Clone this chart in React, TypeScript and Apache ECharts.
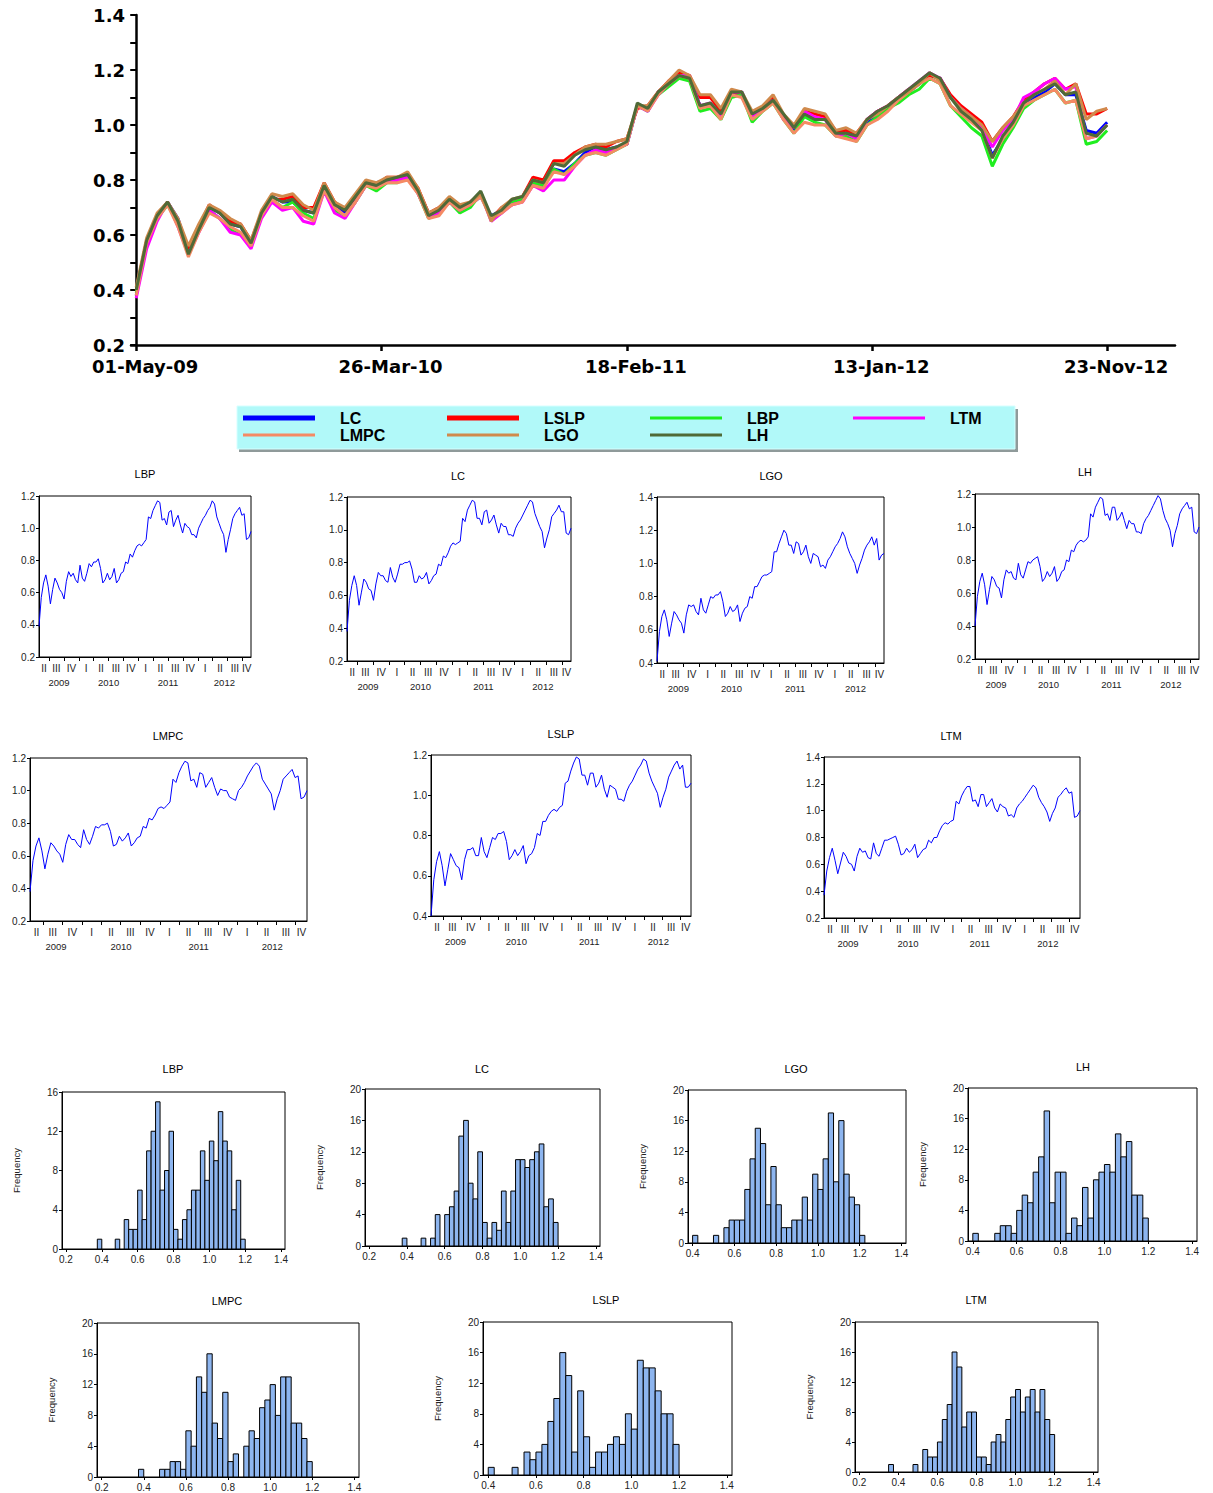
import React, { useEffect, useRef } from 'react';
import * as echarts from 'echarts';

// ---------------- data ----------------
const SERIES_NAMES = ['LC', 'LSLP', 'LBP', 'LTM', 'LMPC', 'LGO', 'LH'];
const SERIES_COLORS = ['#0000ff', '#ff0000', '#1fee1f', '#ff00ff', '#f58a64', '#d08a4c', '#4f6a37'];
const LEGEND_ICON_H = [5, 5, 3, 3, 3, 3, 3];

// biweekly observations, 01-May-09 .. 23-Nov-12
const LC_VALUES = [
  0.38, 0.57, 0.66, 0.72, 0.66, 0.54, 0.62, 0.70, 0.68, 0.64,
  0.63, 0.57, 0.67, 0.74, 0.72, 0.72, 0.69, 0.68, 0.77, 0.71,
  0.68, 0.73, 0.79, 0.79, 0.80, 0.80, 0.81, 0.76, 0.68, 0.68,
  0.72, 0.70, 0.71, 0.74, 0.67, 0.69, 0.72, 0.73, 0.79, 0.78,
  0.84, 0.83, 0.86, 0.90, 0.92, 0.91, 0.92, 0.93, 1.07, 1.05,
  1.12, 1.15, 1.18, 1.17, 1.07, 1.07, 1.03, 1.11, 1.12, 1.04,
  1.06, 1.09, 1.03, 0.98, 1.04, 1.02, 1.02, 0.97, 0.97, 0.96,
  1.01, 1.04, 1.06, 1.09, 1.12, 1.15, 1.18, 1.17, 1.10, 1.06,
  1.02, 0.99, 0.89, 0.95, 1.00, 1.08, 1.10, 1.12, 1.15, 1.11,
  1.11, 0.98, 0.97, 1.01,
];
const LSLP_VALUES = [
  0.40, 0.58, 0.67, 0.72, 0.65, 0.55, 0.63, 0.71, 0.68, 0.65,
  0.64, 0.58, 0.68, 0.73, 0.73, 0.74, 0.70, 0.70, 0.79, 0.72,
  0.69, 0.74, 0.79, 0.78, 0.81, 0.81, 0.82, 0.77, 0.68, 0.70,
  0.73, 0.70, 0.72, 0.75, 0.66, 0.70, 0.71, 0.74, 0.81, 0.80,
  0.87, 0.87, 0.90, 0.92, 0.93, 0.92, 0.94, 0.95, 1.06, 1.07,
  1.12, 1.16, 1.19, 1.18, 1.10, 1.10, 1.05, 1.11, 1.11, 1.04,
  1.06, 1.10, 1.03, 0.99, 1.05, 1.04, 1.03, 0.98, 0.98, 0.97,
  1.02, 1.05, 1.07, 1.10, 1.13, 1.15, 1.18, 1.17, 1.11, 1.07,
  1.04, 1.01, 0.94, 0.99, 1.03, 1.09, 1.12, 1.15, 1.17, 1.13,
  1.15, 1.04, 1.04, 1.06,
];
const LBP_VALUES = [
  0.39, 0.57, 0.66, 0.71, 0.64, 0.53, 0.62, 0.69, 0.66, 0.62,
  0.60, 0.56, 0.67, 0.73, 0.70, 0.72, 0.68, 0.66, 0.77, 0.69,
  0.67, 0.72, 0.78, 0.76, 0.79, 0.79, 0.81, 0.75, 0.66, 0.68,
  0.72, 0.68, 0.70, 0.75, 0.66, 0.68, 0.72, 0.73, 0.79, 0.78,
  0.84, 0.82, 0.86, 0.89, 0.90, 0.89, 0.91, 0.93, 1.07, 1.06,
  1.11, 1.14, 1.17, 1.16, 1.05, 1.06, 1.02, 1.10, 1.11, 1.01,
  1.05, 1.08, 1.02, 0.97, 1.03, 1.01, 1.00, 0.96, 0.96, 0.94,
  1.00, 1.03, 1.06, 1.08, 1.11, 1.13, 1.17, 1.15, 1.07, 1.03,
  0.99, 0.96, 0.85, 0.93, 0.99, 1.06, 1.09, 1.11, 1.13, 1.08,
  1.09, 0.93, 0.94, 0.98,
];
const LTM_VALUES = [
  0.37, 0.55, 0.65, 0.72, 0.63, 0.53, 0.61, 0.69, 0.66, 0.61,
  0.60, 0.55, 0.66, 0.72, 0.69, 0.70, 0.65, 0.64, 0.76, 0.68,
  0.66, 0.72, 0.78, 0.78, 0.79, 0.80, 0.81, 0.75, 0.67, 0.68,
  0.72, 0.69, 0.71, 0.75, 0.65, 0.68, 0.71, 0.72, 0.78, 0.76,
  0.80, 0.80, 0.85, 0.89, 0.91, 0.90, 0.92, 0.93, 1.07, 1.05,
  1.11, 1.15, 1.18, 1.18, 1.07, 1.08, 1.03, 1.12, 1.12, 1.03,
  1.06, 1.09, 1.02, 0.99, 1.05, 1.03, 1.02, 0.96, 0.97, 0.95,
  1.02, 1.05, 1.07, 1.10, 1.13, 1.16, 1.19, 1.17, 1.10, 1.06,
  1.03, 0.99, 0.92, 0.98, 1.02, 1.10, 1.12, 1.15, 1.17, 1.13,
  1.14, 0.95, 0.96, 1.00,
];
const LMPC_VALUES = [
  0.38, 0.57, 0.66, 0.71, 0.63, 0.52, 0.61, 0.68, 0.66, 0.63,
  0.61, 0.56, 0.67, 0.73, 0.70, 0.70, 0.67, 0.65, 0.76, 0.70,
  0.67, 0.72, 0.78, 0.77, 0.79, 0.79, 0.80, 0.75, 0.66, 0.67,
  0.72, 0.69, 0.71, 0.74, 0.66, 0.68, 0.71, 0.72, 0.78, 0.77,
  0.83, 0.82, 0.85, 0.89, 0.90, 0.89, 0.91, 0.93, 1.07, 1.05,
  1.11, 1.15, 1.18, 1.17, 1.06, 1.07, 1.02, 1.11, 1.10, 1.02,
  1.05, 1.08, 1.02, 0.97, 1.01, 1.00, 1.00, 0.96, 0.95, 0.94,
  1.00, 1.02, 1.05, 1.09, 1.12, 1.15, 1.17, 1.15, 1.07, 1.04,
  1.01, 0.98, 0.88, 0.95, 1.00, 1.07, 1.09, 1.11, 1.13, 1.08,
  1.09, 0.95, 0.96, 1.00,
];
const LGO_VALUES = [
  0.41, 0.59, 0.68, 0.72, 0.66, 0.56, 0.64, 0.71, 0.69, 0.66,
  0.64, 0.58, 0.69, 0.75, 0.74, 0.75, 0.71, 0.69, 0.79, 0.72,
  0.70, 0.75, 0.80, 0.79, 0.81, 0.81, 0.83, 0.77, 0.68, 0.70,
  0.74, 0.71, 0.72, 0.75, 0.65, 0.70, 0.73, 0.74, 0.80, 0.79,
  0.86, 0.86, 0.89, 0.92, 0.93, 0.93, 0.94, 0.95, 1.07, 1.07,
  1.12, 1.16, 1.20, 1.18, 1.11, 1.11, 1.06, 1.13, 1.12, 1.05,
  1.07, 1.11, 1.04, 1.00, 1.06, 1.05, 1.04, 0.98, 0.99, 0.97,
  1.02, 1.04, 1.07, 1.10, 1.12, 1.15, 1.19, 1.16, 1.10, 1.06,
  1.03, 1.00, 0.94, 0.99, 1.03, 1.08, 1.11, 1.13, 1.16, 1.11,
  1.15, 1.02, 1.05, 1.06,
];
const LH_VALUES = [
  0.40, 0.58, 0.67, 0.72, 0.65, 0.53, 0.62, 0.70, 0.68, 0.64,
  0.63, 0.57, 0.68, 0.74, 0.72, 0.73, 0.69, 0.68, 0.78, 0.71,
  0.69, 0.74, 0.79, 0.78, 0.80, 0.81, 0.82, 0.76, 0.67, 0.69,
  0.73, 0.70, 0.72, 0.76, 0.67, 0.69, 0.73, 0.74, 0.80, 0.79,
  0.86, 0.85, 0.89, 0.91, 0.92, 0.91, 0.92, 0.94, 1.08, 1.06,
  1.12, 1.15, 1.18, 1.17, 1.07, 1.08, 1.04, 1.12, 1.12, 1.04,
  1.06, 1.09, 1.04, 0.99, 1.04, 1.02, 1.02, 0.97, 0.97, 0.96,
  1.02, 1.05, 1.07, 1.10, 1.13, 1.16, 1.19, 1.17, 1.10, 1.05,
  1.02, 0.98, 0.88, 0.96, 1.01, 1.08, 1.11, 1.13, 1.15, 1.11,
  1.12, 0.97, 0.96, 1.00,
];
const VALUES: Record<string, number[]> = {
  LC: LC_VALUES, LSLP: LSLP_VALUES, LBP: LBP_VALUES, LTM: LTM_VALUES,
  LMPC: LMPC_VALUES, LGO: LGO_VALUES, LH: LH_VALUES,
};

const WEEK_STEP = 2;
const LAST_WEEK = 186;
const MAIN_TICK_WEEKS = [0, 47, 94, 141, 186];
const MAIN_TICK_LABELS = ['01-May-09', '26-Mar-10', '18-Feb-11', '13-Jan-12', '23-Nov-12'];
const QUARTER_LABELS = ['II', 'III', 'IV', 'I', 'II', 'III', 'IV', 'I', 'II', 'III', 'IV', 'I', 'II', 'III', 'IV'];
const YEAR_LABELS = ['2009', '2010', '2011', '2012'];

// histograms: counts per bin of width 0.025
const HIST_BIN_WIDTH = 0.025;
const LBP_HIST_START = 0.375;
const LBP_HIST = [1, 0, 0, 0, 1, 0, 3, 2, 2, 6, 3, 10, 12, 15, 6, 8, 12, 2, 1, 3, 4, 6, 6, 10, 7, 11, 9, 14, 11, 10, 4, 7, 1];
const LC_HIST_START = 0.375;
const LC_HIST = [1, 0, 0, 0, 1, 0, 1, 4, 0, 4, 5, 7, 14, 16, 8, 6, 12, 3, 1, 3, 2, 7, 3, 7, 11, 11, 10, 11, 12, 13, 5, 6, 3];
const LGO_HIST_START = 0.4;
const LGO_HIST = [1, 0, 0, 0, 1, 0, 2, 3, 3, 3, 7, 11, 15, 13, 5, 10, 5, 2, 2, 3, 3, 6, 3, 9, 7, 11, 17, 8, 16, 9, 6, 5, 1];
const LH_HIST_START = 0.4;
const LH_HIST = [1, 0, 0, 0, 1, 2, 2, 1, 4, 6, 5, 9, 11, 17, 5, 9, 9, 1, 3, 2, 7, 3, 8, 9, 10, 9, 14, 11, 13, 6, 6, 3];
const LMPC_HIST_START = 0.375;
const LMPC_HIST = [1, 0, 0, 0, 1, 1, 2, 2, 1, 6, 4, 13, 11, 16, 7, 5, 11, 2, 3, 0, 4, 6, 5, 9, 10, 12, 8, 13, 13, 7, 7, 5, 2];
const LSLP_HIST_START = 0.4;
const LSLP_HIST = [1, 0, 0, 0, 1, 0, 3, 2, 3, 4, 7, 10, 16, 13, 3, 11, 5, 1, 3, 3, 4, 5, 4, 8, 6, 15, 14, 14, 11, 8, 8, 4];
const LTM_HIST_START = 0.35;
const LTM_HIST = [1, 0, 0, 0, 0, 1, 0, 3, 2, 2, 4, 7, 9, 16, 14, 6, 8, 8, 2, 2, 1, 4, 5, 4, 7, 10, 11, 8, 10, 11, 8, 11, 7, 5];

const HIST_DATA: Record<string, { start: number; counts: number[] }> = {
  LBP: { start: LBP_HIST_START, counts: LBP_HIST },
  LC: { start: LC_HIST_START, counts: LC_HIST },
  LGO: { start: LGO_HIST_START, counts: LGO_HIST },
  LH: { start: LH_HIST_START, counts: LH_HIST },
  LMPC: { start: LMPC_HIST_START, counts: LMPC_HIST },
  LSLP: { start: LSLP_HIST_START, counts: LSLP_HIST },
  LTM: { start: LTM_HIST_START, counts: LTM_HIST },
};

// ---------------- layout ----------------
const LINE_PANELS = [
  { name: 'LBP', l: 39, t: 496, r: 251, b: 657, yMin: 0.2, yMax: 1.2, tx: 145, ty: 474 },
  { name: 'LC', l: 347, t: 497, r: 571, b: 661, yMin: 0.2, yMax: 1.2, tx: 458, ty: 476 },
  { name: 'LGO', l: 657, t: 497, r: 884, b: 663, yMin: 0.4, yMax: 1.4, tx: 771, ty: 476 },
  { name: 'LH', l: 975, t: 494, r: 1199, b: 659, yMin: 0.2, yMax: 1.2, tx: 1085, ty: 472 },
  { name: 'LMPC', l: 30, t: 758, r: 307, b: 921, yMin: 0.2, yMax: 1.2, tx: 168, ty: 736 },
  { name: 'LSLP', l: 431, t: 755, r: 691, b: 916, yMin: 0.4, yMax: 1.2, tx: 561, ty: 734 },
  { name: 'LTM', l: 824, t: 757, r: 1080, b: 918, yMin: 0.2, yMax: 1.4, tx: 951, ty: 736 },
];
const HIST_PANELS = [
  { name: 'LBP', l: 62, t: 1092, r: 285, b: 1249, xLo: 0.2, yMax: 16, tx: 173, ty: 1069 },
  { name: 'LC', l: 365, t: 1089, r: 600, b: 1246, xLo: 0.2, yMax: 20, tx: 482, ty: 1069 },
  { name: 'LGO', l: 688, t: 1090, r: 906, b: 1243, xLo: 0.4, yMax: 20, tx: 796, ty: 1069 },
  { name: 'LH', l: 968, t: 1088, r: 1197, b: 1241, xLo: 0.4, yMax: 20, tx: 1083, ty: 1067 },
  { name: 'LMPC', l: 97, t: 1323, r: 359, b: 1477, xLo: 0.2, yMax: 20, tx: 227, ty: 1301 },
  { name: 'LSLP', l: 483, t: 1322, r: 732, b: 1475, xLo: 0.4, yMax: 20, tx: 606, ty: 1300 },
  { name: 'LTM', l: 855, t: 1322, r: 1098, b: 1472, xLo: 0.2, yMax: 20, tx: 976, ty: 1300 },
];
const LEGEND_POS = [[243, 410], [447, 410], [650, 410], [853, 410], [243, 427], [447, 427], [650, 427]];

// ---------------- axis helpers ----------------
const START_MS = Date.UTC(2009, 4, 1);
const weekOf = (y: number, m: number) => (Date.UTC(y, m, 1) - START_MS) / (7 * 86400000);
const quarterStarts: number[] = [];
for (let y = 2009; y <= 2012; y++) {
  for (let m = 0; m < 12; m += 3) {
    const w = weekOf(y, m);
    if (w > 0 && w < LAST_WEEK) quarterStarts.push(w);
  }
}
const qBounds = [0, ...quarterStarts, LAST_WEEK];
const qMids = qBounds.slice(0, -1).map((b, i) => (b + qBounds[i + 1]) / 2);
const yBounds = [0, weekOf(2010, 0), weekOf(2011, 0), weekOf(2012, 0), LAST_WEEK];
const yMids = yBounds.slice(0, -1).map((b, i) => (b + yBounds[i + 1]) / 2);

const nearest = (vals: number[], labels: string[]) => (v: number) => {
  let bi = 0;
  let bd = Infinity;
  vals.forEach((x, i) => {
    const d = Math.abs(x - v);
    if (d < bd) { bd = d; bi = i; }
  });
  return labels[bi];
};

const FONT = 'Liberation Sans';
const BOLD_FONT = 'DejaVu Sans';

function buildOption() {
  const grid: any[] = [];
  const xAxis: any[] = [];
  const yAxis: any[] = [];
  const series: any[] = [];
  const graphic: any[] = [];

  // ---- main chart ----
  grid.push({ left: 131, top: 15, width: 1044, height: 330 });
  xAxis.push({
    type: 'value', gridIndex: 0, min: -1, max: 199,
    axisLine: { show: true, lineStyle: { color: '#000', width: 2.5 } },
    axisTick: { show: true, customValues: MAIN_TICK_WEEKS, length: 6, lineStyle: { color: '#000', width: 2.5 } },
    axisLabel: {
      show: true, customValues: MAIN_TICK_WEEKS, formatter: nearest(MAIN_TICK_WEEKS, MAIN_TICK_LABELS),
      fontFamily: BOLD_FONT, fontWeight: 'bold', fontSize: 18, color: '#000', margin: 12, padding: [0, 0, 0, 18],
    },
    splitLine: { show: false },
  });
  yAxis.push({
    type: 'value', gridIndex: 0, min: 0.2, max: 1.4, interval: 0.2,
    axisLine: { show: true, lineStyle: { color: '#000', width: 2.5 } },
    axisTick: { show: true, length: 6, lineStyle: { color: '#000', width: 2 } },
    minorTick: { show: true, splitNumber: 2, length: 6, lineStyle: { color: '#000', width: 2 } },
    axisLabel: {
      formatter: (v: number) => v.toFixed(1), fontFamily: BOLD_FONT, fontWeight: 'bold',
      fontSize: 18, color: '#000', margin: 6,
    },
    splitLine: { show: false },
  });
  SERIES_NAMES.forEach((n, i) => {
    series.push({
      type: 'line', name: n, xAxisIndex: 0, yAxisIndex: 0, color: SERIES_COLORS[i],
      data: VALUES[n].map((v, k) => [k * WEEK_STEP, v]),
      showSymbol: false, symbol: 'none',
      lineStyle: { color: SERIES_COLORS[i], width: 3 },
      itemStyle: { color: SERIES_COLORS[i] },
      z: 2 + i,
    });
  });

  // legend box
  graphic.push({ type: 'rect', z: 0, shape: { x: 239, y: 409, width: 779, height: 43 }, style: { fill: '#8f9a9a' } });
  graphic.push({ type: 'rect', z: 1, shape: { x: 237, y: 406, width: 778, height: 43 }, style: { fill: '#b1f9f9', stroke: '#d6ffff', lineWidth: 1 } });

  // ---- small line charts ----
  LINE_PANELS.forEach((p) => {
    const gi = grid.length;
    grid.push({
      left: p.l, top: p.t, width: p.r - p.l, height: p.b - p.t,
      show: true, borderColor: '#000', borderWidth: 1, backgroundColor: 'transparent',
    });
    const xi = xAxis.length;
    xAxis.push({
      type: 'value', gridIndex: gi, min: 0, max: LAST_WEEK, position: 'bottom',
      axisLine: { show: true, lineStyle: { color: '#000', width: 1 } },
      axisTick: { show: true, customValues: quarterStarts, length: 4, lineStyle: { color: '#000' } },
      axisLabel: {
        show: true, customValues: qMids, formatter: nearest(qMids, QUARTER_LABELS),
        fontFamily: FONT, fontSize: 10, color: '#222', margin: 6,
      },
      splitLine: { show: false },
    });
    xAxis.push({
      type: 'value', gridIndex: gi, min: 0, max: LAST_WEEK, position: 'bottom', offset: 14,
      axisLine: { show: false }, axisTick: { show: false },
      axisLabel: {
        show: true, customValues: yMids, formatter: nearest(yMids, YEAR_LABELS),
        fontFamily: FONT, fontSize: 9.5, color: '#222', margin: 6,
      },
      splitLine: { show: false },
    });
    const yi = yAxis.length;
    yAxis.push({
      type: 'value', gridIndex: gi, min: p.yMin, max: p.yMax, interval: 0.2,
      axisLine: { show: true, lineStyle: { color: '#000', width: 1 } },
      axisTick: { show: true, length: 3, lineStyle: { color: '#000' } },
      axisLabel: { formatter: (v: number) => v.toFixed(1), fontFamily: FONT, fontSize: 10, color: '#222', margin: 4 },
      splitLine: { show: false },
    });
    series.push({
      type: 'line', name: p.name + ' series', xAxisIndex: xi, yAxisIndex: yi, color: '#0000ff',
      data: VALUES[p.name].map((v, k) => [k * WEEK_STEP, v]),
      showSymbol: false, symbol: 'none',
      lineStyle: { color: '#0000ff', width: 1 },
    });
    graphic.push({
      type: 'text', x: p.tx, y: p.ty,
      style: { text: p.name, fontFamily: FONT, fontSize: 11, fill: '#000', align: 'center', verticalAlign: 'middle' },
    });
  });

  // ---- histograms ----
  HIST_PANELS.forEach((p) => {
    const gi = grid.length;
    grid.push({
      left: p.l, top: p.t, width: p.r - p.l, height: p.b - p.t,
      show: true, borderColor: '#000', borderWidth: 1, backgroundColor: 'transparent',
    });
    const ticks: number[] = [];
    for (let v = Math.round(p.xLo * 10); v <= 14; v += 2) ticks.push(v / 10);
    const xi = xAxis.length;
    xAxis.push({
      type: 'value', gridIndex: gi, min: p.xLo - 0.022, max: 1.4 + 0.022,
      axisLine: { show: true, lineStyle: { color: '#000', width: 1 } },
      axisTick: { show: true, customValues: ticks, length: 3, lineStyle: { color: '#000' } },
      axisLabel: {
        show: true, customValues: ticks, formatter: (v: number) => v.toFixed(1),
        fontFamily: FONT, fontSize: 10, color: '#222', margin: 5,
      },
      splitLine: { show: false },
    });
    const yi = yAxis.length;
    yAxis.push({
      type: 'value', gridIndex: gi, min: 0, max: p.yMax, interval: 4,
      name: 'Frequency', nameLocation: 'middle', nameRotate: 90, nameGap: 41,
      nameTextStyle: { fontFamily: FONT, fontSize: 9.5, color: '#222' },
      axisLine: { show: true, lineStyle: { color: '#000', width: 1 } },
      axisTick: { show: true, length: 3, lineStyle: { color: '#000' } },
      axisLabel: { fontFamily: FONT, fontSize: 10, color: '#222', margin: 4 },
      splitLine: { show: false },
    });
    const h = HIST_DATA[p.name];
    series.push({
      type: 'custom', name: p.name + ' histogram', xAxisIndex: xi, yAxisIndex: yi,
      data: h.counts.map((c, k) => [h.start + k * HIST_BIN_WIDTH, c]),
      encode: { x: 0, y: 1 },
      silent: true,
      renderItem: (params: any, api: any) => {
        const c = api.value(1);
        if (!c) return null;
        const x0 = api.value(0);
        const a = api.coord([x0, c]);
        const b = api.coord([x0 + HIST_BIN_WIDTH, 0]);
        return {
          type: 'rect',
          shape: { x: a[0], y: a[1], width: b[0] - a[0], height: b[1] - a[1] },
          style: { fill: '#8db5ef', stroke: '#000', lineWidth: 1 },
        };
      },
    });
    graphic.push({
      type: 'text', x: p.tx, y: p.ty,
      style: { text: p.name, fontFamily: FONT, fontSize: 11, fill: '#000', align: 'center', verticalAlign: 'middle' },
    });
  });

  const legend = SERIES_NAMES.map((n, i) => ({
    data: [{ name: n, icon: 'rect' }],
    left: LEGEND_POS[i][0], top: LEGEND_POS[i][1],
    itemWidth: 72, itemHeight: LEGEND_ICON_H[i], padding: 0, itemGap: 0,
    selectedMode: false, z: 10,
    textStyle: { fontFamily: FONT, fontWeight: 'bold', fontSize: 16, color: '#000', padding: [0, 0, 0, 20] },
  }));

  return {
    animation: false,
    backgroundColor: '#ffffff',
    textStyle: { fontFamily: FONT },
    grid, xAxis, yAxis, series, legend, graphic,
  };
}

export default function App() {
  const ref = useRef<HTMLDivElement>(null);
  useEffect(() => {
    if (!ref.current) return;
    const chart = echarts.init(ref.current, undefined, { renderer: 'svg' });
    chart.setOption(buildOption() as any);
    return () => chart.dispose();
  }, []);
  return (
    <div
      ref={ref}
      style={{ position: 'absolute', left: 0, top: 0, width: 1213, height: 1493 }}
    />
  );
}
